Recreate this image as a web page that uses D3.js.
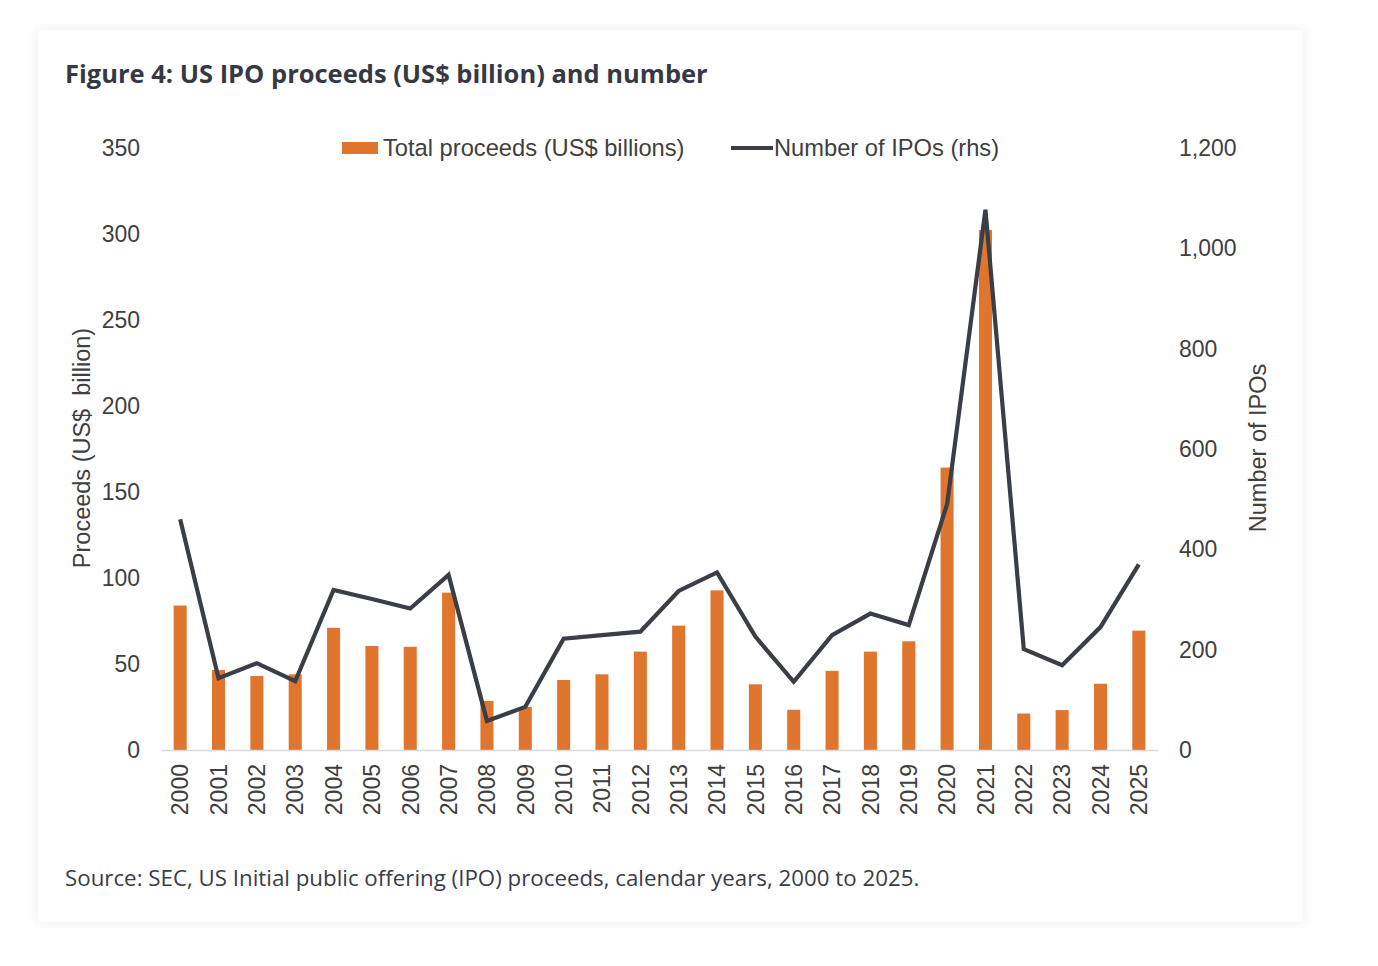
<!DOCTYPE html>
<html>
<head>
<meta charset="utf-8">
<script src="https://cdn.jsdelivr.net/npm/d3@7"></script>
<style>
  body { margin: 0; background: #fff; }
  #card {
    position: absolute; left: 38px; top: 30px; width: 1265px; height: 892px;
    background: #fff; box-shadow: 0 0 10px rgba(40, 70, 140, 0.09);
  }
  #chart { position: absolute; left: 0; top: 0; }
</style>
</head>
<body>
<div id="card"></div>
<div id="chart"></div>
<script>
const years = ["2000","2001","2002","2003","2004","2005","2006","2007","2008","2009","2010","2011","2012",
  "2013","2014","2015","2016","2017","2018","2019","2020","2021","2022","2023","2024","2025"];
// total proceeds, US$ billions (left axis)
const proceeds = [84, 46.5, 43, 44, 71, 60.5, 60, 91.5, 28.5, 25, 40.7, 44, 57.2,
  72.3, 92.8, 38.2, 23.4, 46, 57.2, 63.2, 164.2, 302.3, 21.2, 23.2, 38.5, 69.4];
// number of IPOs (right axis)
const ipoCount = [460, 143, 173, 137, 319, 301, 282, 349, 58, 86, 222, 229, 236,
  317, 354, 226, 136, 229, 272, 249, 490, 1077, 201, 169, 245, 370];
const leftTicks = [0, 50, 100, 150, 200, 250, 300, 350];
const rightTicks = [0, 200, 400, 600, 800, 1000, 1200];

const W = 1378, H = 966;
const txt = "#404040";
const font = "'Liberation Sans', Arial, sans-serif";

const svg = d3.select("#chart").append("svg")
  .attr("width", W).attr("height", H);

svg.append("text")
  .attr("x", 65).attr("y", 83)
  .style("font-family", "'Open Sans', sans-serif")
  .style("font-weight", 700)
  .style("font-size", "25.5px")
  .style("fill", "#363944")
  .text("Figure 4: US IPO proceeds (US$ billion) and number");

svg.append("text")
  .attr("x", 65).attr("y", 886)
  .style("font-family", "'Open Sans', sans-serif")
  .style("font-size", "22.3px")
  .style("fill", "#3a3d48")
  .text("Source: SEC, US Initial public offering (IPO) proceeds, calendar years, 2000 to 2025.");

const x = d3.scaleBand().domain(years).range([161, 1158]);
const yL = d3.scaleLinear().domain([0, 350]).range([750, 148]);
const yR = d3.scaleLinear().domain([0, 1200]).range([750, 148]);
const cx = d => x(d) + x.bandwidth() / 2;

// bars
const barW = x.bandwidth() * 0.34;
svg.append("g").selectAll("rect")
  .data(years.map((y, i) => ({ year: y, v: proceeds[i] })))
  .enter().append("rect")
  .attr("x", d => cx(d.year) - barW / 2)
  .attr("y", d => yL(d.v))
  .attr("width", barW)
  .attr("height", d => yL(0) - yL(d.v))
  .style("fill", "#e0752e");

// x axis
const xAxis = svg.append("g")
  .attr("transform", "translate(0,750)")
  .call(d3.axisBottom(x).tickSize(0).tickSizeOuter(0));
xAxis.select(".domain").attr("stroke", "#dadbe0").attr("stroke-width", 1.3);
xAxis.selectAll("text")
  .attr("transform", "rotate(-90)")
  .attr("x", -14).attr("y", 0).attr("dy", "0.36em")
  .style("text-anchor", "end")
  .style("font-family", font).style("font-size", "23px").style("fill", txt);

// left axis
const lAxis = svg.append("g")
  .attr("transform", "translate(160,0)")
  .call(d3.axisLeft(yL).tickValues(leftTicks).tickSize(0).tickPadding(20));
lAxis.select(".domain").remove();
lAxis.selectAll("text")
  .style("font-family", font).style("font-size", "23px").style("fill", txt);

// right axis
const rAxis = svg.append("g")
  .attr("transform", "translate(1158,0)")
  .call(d3.axisRight(yR).tickValues(rightTicks).tickSize(0).tickPadding(21).tickFormat(d3.format(",")));
rAxis.select(".domain").remove();
rAxis.selectAll("text")
  .style("font-family", font).style("font-size", "23px").style("fill", txt);

// axis titles
svg.append("text")
  .attr("transform", "translate(90,448) rotate(-90)")
  .attr("text-anchor", "middle")
  .style("font-family", font).style("font-size", "23.5px").style("fill", txt)
  .style("white-space", "pre")
  .text("Proceeds (US$  billion)");
svg.append("text")
  .attr("transform", "translate(1266,448) rotate(-90)")
  .attr("text-anchor", "middle")
  .style("font-family", font).style("font-size", "23.5px").style("fill", txt)
  .text("Number of IPOs");

// line
const line = d3.line()
  .x((d, i) => cx(years[i]))
  .y(d => yR(d));
svg.append("path")
  .datum(ipoCount)
  .attr("d", line)
  .attr("fill", "none")
  .attr("stroke", "#3a3e46")
  .attr("stroke-width", 4.2)
  .attr("stroke-linejoin", "miter");

// legend
const leg = svg.append("g");
leg.append("rect")
  .attr("x", 342).attr("y", 142).attr("width", 36).attr("height", 12)
  .style("fill", "#e0752e");
leg.append("text")
  .attr("x", 383).attr("y", 156)
  .style("font-family", font).style("font-size", "23.7px").style("fill", txt)
  .text("Total proceeds (US$ billions)");
leg.append("line")
  .attr("x1", 731).attr("x2", 773).attr("y1", 148).attr("y2", 148)
  .attr("stroke", "#3a3e46").attr("stroke-width", 4);
leg.append("text")
  .attr("x", 774).attr("y", 156)
  .style("font-family", font).style("font-size", "23.7px").style("fill", txt)
  .text("Number of IPOs (rhs)");
</script>
</body>
</html>
